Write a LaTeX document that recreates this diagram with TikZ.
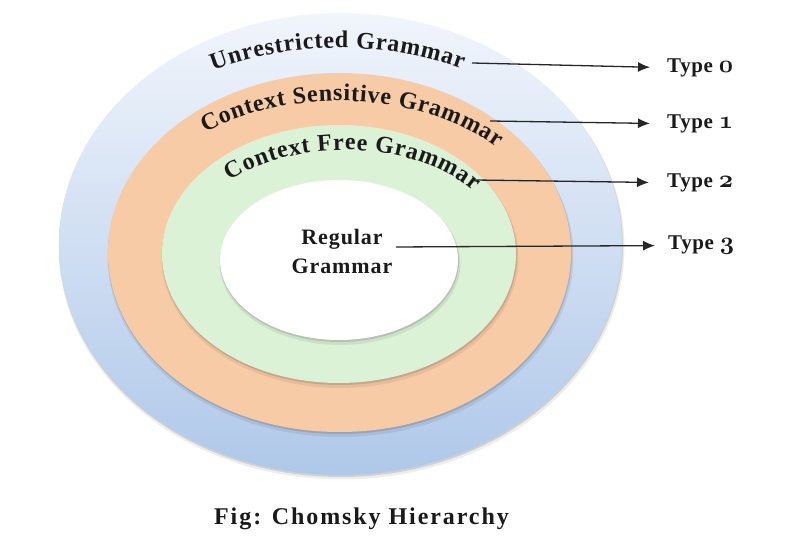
\documentclass[tikz,border=0pt]{standalone}
\usepackage{fontspec}
\setmainfont{Liberation Serif}
\newfontfamily\capfont{Liberation Serif}[LetterSpace=8]
\newfontfamily\regfont{Liberation Serif}[LetterSpace=4]
\newfontfamily\typefont{Liberation Serif}[LetterSpace=3]
\newfontfamily\curvefont{Liberation Serif}
\usetikzlibrary{decorations.text,arrows.meta}
\definecolor{blueTop}{HTML}{F1F5FC}
\definecolor{blueBot}{HTML}{AFC8E9}
\definecolor{ringOrange}{HTML}{F8CBA7}
\definecolor{ringGreen}{HTML}{DCF2D7}
\definecolor{inkText}{HTML}{1A1A1A}
\newcommand{\osn}[1]{{\fontencoding{OML}\fontfamily{cmm}\fontseries{b}\fontshape{it}\fontsize{24}{28}\selectfont#1}}
\begin{document}
\begin{tikzpicture}[x=1pt,y=1pt,
  softshadowA/.style={fill=black, opacity=0.07},
  softshadowB/.style={fill=black, opacity=0.12},
  curvetext/.style={decorate, decoration={text along path, text align={fit to path}, text color=inkText}},
  typelabel/.style={anchor=base west, inner sep=0pt, text=inkText, font=\typefont\bfseries\fontsize{21}{25}\selectfont},
  pointer/.style={draw=black!85, line width=1.3pt, -{Latex[length=12pt,width=10pt]}},
  regular/.style={anchor=south, inner sep=0pt, align=center, text=inkText, font=\regfont\bfseries\fontsize{22}{29}\selectfont},
  caption/.style={anchor=base, inner sep=0pt, text=inkText, font=\capfont\bfseries\fontsize{24}{28}\selectfont}]
\useasboundingbox (0,0) rectangle (790,548);
\fill[white] (0,0) rectangle (790,548);
% outer ring (Type 0)
\fill[softshadowA] (341.5,300.5) ellipse[x radius=283, y radius=232];
\fill[softshadowB] (341,302.5) ellipse[x radius=282, y radius=231.5];
\shade[top color=blueTop, bottom color=blueBot] (340.5,304) ellipse[x radius=281.5, y radius=231];
% orange ring (Type 1)
\fill[softshadowA] (340.5,292) ellipse[x radius=233, y radius=181];
\fill[softshadowB] (340,294) ellipse[x radius=232, y radius=180];
\fill[ringOrange] (339.5,295.5) ellipse[x radius=231.5, y radius=179.5];
% green ring (Type 2)
\fill[softshadowA] (340,290.5) ellipse[x radius=178.5, y radius=130.5];
\fill[softshadowB] (339.5,292.5) ellipse[x radius=177.5, y radius=129.5];
\fill[ringGreen] (339,294) ellipse[x radius=177, y radius=129];
% white core (Type 3)
\fill[softshadowA] (340,284.5) ellipse[x radius=120.5, y radius=81.5];
\fill[softshadowB] (339.5,286.5) ellipse[x radius=119.5, y radius=80.5];
\fill[white] (339,288) ellipse[x radius=119, y radius=80];
% curved labels
\path[curvetext, decoration={text={|\curvefont\bfseries\fontsize{24}{28}\selectfont|Unrestricted Grammar}}]
  (213,477.8) arc[start angle=117.7, end angle=63, x radius=271, y radius=194];
\path[curvetext, decoration={text={|\curvefont\bfseries\fontsize{24}{28}\selectfont|Context Sensitive Grammar}}]
  (205.1,415.7) arc[start angle=127.7, end angle=43.8, x radius=219, y radius=150];
\path[curvetext, decoration={text={|\curvefont\bfseries\fontsize{24}{28}\selectfont|Context Free Grammar}}]
  (230,367.3) arc[start angle=135.2, end angle=37.2, x radius=162, y radius=104];
% inner label
\node[regular] (rg) at (342,274) {Regular\\Grammar};
% type labels
\node[typelabel] (t0) at (667,475.7) {Type \osn{0}};
\node[typelabel] (t1) at (667,419.7) {Type \osn{1}};
\node[typelabel] (t2) at (667,360.7) {Type \osn{2}};
\node[typelabel] (t3) at (668,298) {Type \osn{3}};
% connector start points
\coordinate (s0) at (472,485);
\coordinate (s1) at (490,427);
\coordinate (s2) at (475,368);
\coordinate (s3) at (396,301);
\draw[pointer, shorten >=17pt] (s0) -- (t0.west);
\draw[pointer, shorten >=17pt] (s1) -- (t1.west);
\draw[pointer, shorten >=18pt] (s2) -- (t2.west);
\draw[pointer, shorten >=13pt] (s3) -- (t3.west);
% caption
\node[caption] (cap) at (361.5,23) {Fig: Chomsky Hierarchy};
\end{tikzpicture}
\end{document}
